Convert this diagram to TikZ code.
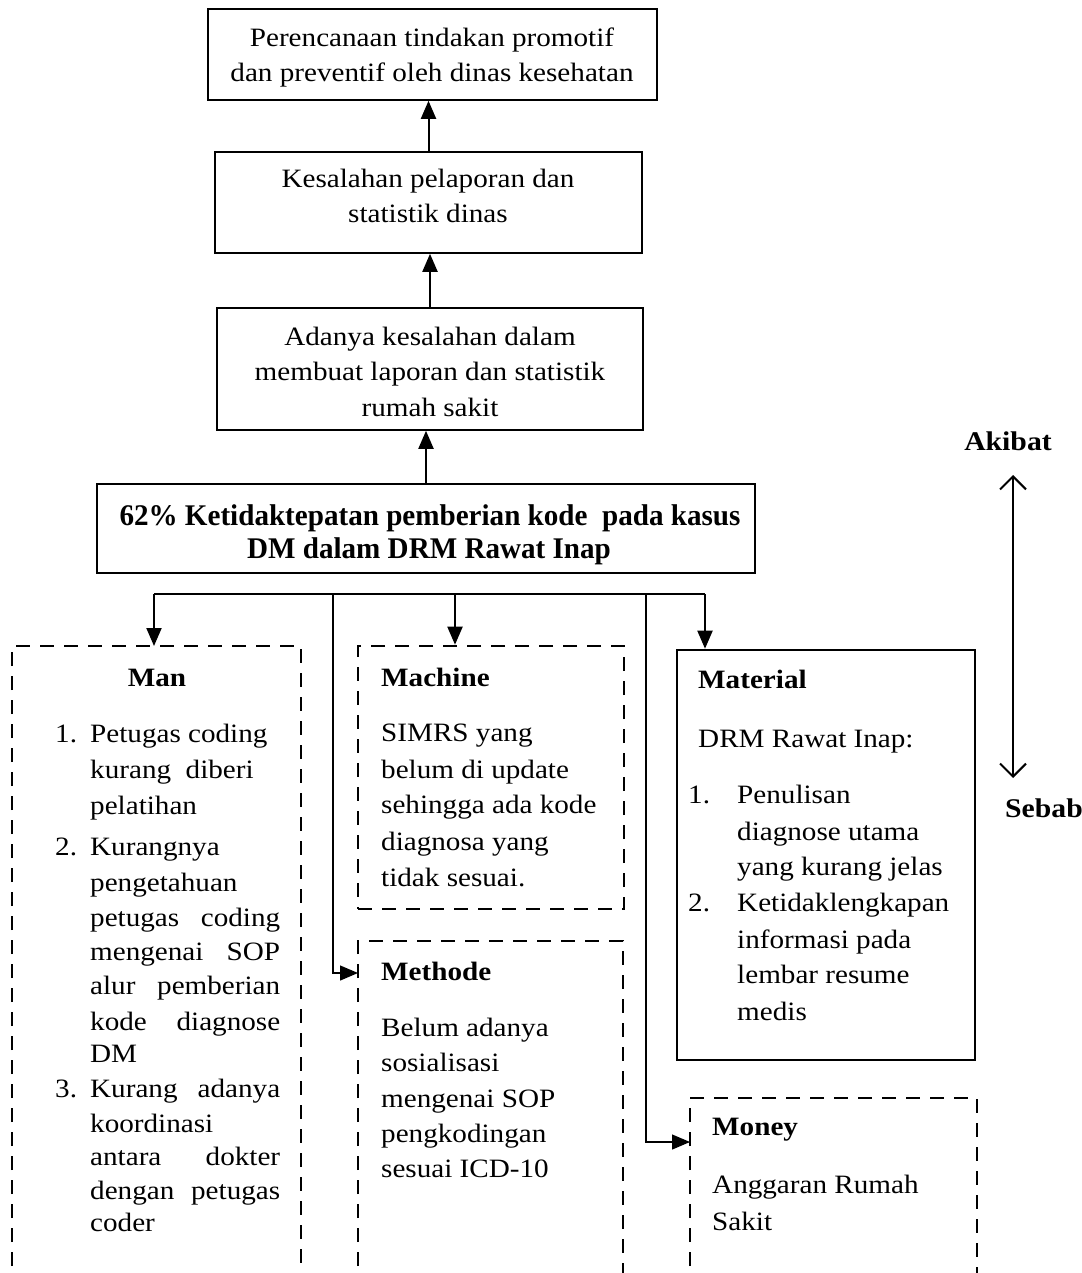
\documentclass[tikz,border=0pt]{standalone}
\usepackage{fontspec}
\setmainfont{Liberation Serif}[FakeStretch=1.1]
\newfontfamily\boxfont{Liberation Serif}[FakeStretch=0.97]
\usetikzlibrary{arrows.meta}
\newcommand\jline[1]{\makebox[190pt][s]{#1}}
\tikzset{
  box/.style={draw, line width=1.6pt, inner sep=0pt},
  thickbox/.style={draw, line width=2.6pt, inner sep=0pt},
  dbox/.style={draw, line width=2.6pt, dash pattern=on 14pt off 10pt},
  arr/.style={line width=2pt, -{Triangle[length=18pt,width=15pt]}},
  thinarr/.style={line width=1.3pt, -{Triangle[length=18pt,width=15pt]}},
  thinline/.style={line width=1.3pt},
  txt/.style={inner sep=0pt, anchor=base},
  txtl/.style={inner sep=0pt, anchor=base west},
  ttl/.style={inner sep=0pt, anchor=base west, font=\fontsize{26.5}{30}\selectfont\bfseries},
}
\begin{document}
\begin{tikzpicture}[x=1pt,y=-1pt,font=\fontsize{26.5}{30}\selectfont]
\useasboundingbox (0,0) rectangle (1081,1273);
\fill[white] (0,0) rectangle (1081,1273);

% upper chain
\node[box, minimum width=449pt, minimum height=91pt] (b1) at (432.5,54.5) {};
\node[txt] (b1a) at (432,47) {Perencanaan tindakan promotif};
\node[txt] (b1b) at (432,82) {dan preventif oleh dinas kesehatan};

\node[box, minimum width=427pt, minimum height=101pt] (b2) at (428.5,202.5) {};
\node[txt] (b2a) at (428,188) {Kesalahan pelaporan dan};
\node[txt] (b2b) at (428,223) {statistik dinas};

\node[box, minimum width=426pt, minimum height=122pt] (b3) at (430,369) {};
\node[txt] (b3a) at (430,345) {Adanya kesalahan dalam};
\node[txt] (b3b) at (430,380) {membuat laporan dan statistik};
\node[txt] (b3c) at (430,416) {rumah sakit};

\node[thickbox, minimum width=658pt, minimum height=89pt] (b4) at (426,528.5) {};
\node[txt, font=\boxfont\fontsize{30}{32}\selectfont\bfseries] (b4a) at (430,525) {62\% Ketidaktepatan pemberian kode\ \ pada kasus};
\node[txt, font=\boxfont\fontsize{30}{32}\selectfont\bfseries] (b4b) at (429,558) {DM dalam DRM Rawat Inap};

\draw[arr] (b2.north) -- (b2.north |- b1.south);
\draw[arr] (b3.north) -- (b3.north |- b2.south);
\draw[arr] (b4.north) -- (b4.north |- b3.south);

% branch coordinates
\coordinate (p1) at (154,594);
\coordinate (p2) at (333,594);
\coordinate (p3) at (455,594);
\coordinate (p4) at (646,594);
\coordinate (p5) at (705,594);
\coordinate (mantop) at (154,646);
\coordinate (methW) at (358,973);
\coordinate (monW) at (690,1142);

% open dashed boxes
\draw[dbox] (12,1290) -- (12,646) -- (301,646) -- (301,1290);
\draw[dbox] (358,1290) -- (358,941) -- (623,941) -- (623,1290);
\draw[dbox] (690,1290) -- (690,1098) -- (977,1098) -- (977,1290);

% closed boxes
\node[dbox, inner sep=0pt, minimum width=266pt, minimum height=263pt] (mach) at (491,777.5) {};
\node[thickbox, minimum width=298pt, minimum height=410pt] (mat) at (826,855) {};

% connectors
\draw[thinline] (p1) -- (p5);
\draw[arr] (p1) -- (mantop);
\draw[arr] (p3) -- (p3 |- mach.north);
\draw[arr] (p5) -- (p5 |- mat.north);
\draw[thinarr] (p2) |- (methW);
\draw[thinarr] (p4) |- (monW);

% Man
\node[txt, font=\fontsize{26.5}{30}\selectfont\bfseries] (manT) at (157,686) {Man};
\node[txtl] (m1n) at (55,742) {1.};
\node[txtl] (m1a) at (90,742) {Petugas coding};
\node[txtl] (m1b) at (90,778) {kurang\ \ diberi};
\node[txtl] (m1c) at (90,814) {pelatihan};
\node[txtl] (m2n) at (55,855) {2.};
\node[txtl] (m2a) at (90,855) {Kurangnya};
\node[txtl] (m2b) at (90,891) {pengetahuan};
\node[txtl] (m2c) at (90,926) {\jline{petugas coding}};
\node[txtl] (m2d) at (90,960) {\jline{mengenai SOP}};
\node[txtl] (m2e) at (90,994) {\jline{alur pemberian}};
\node[txtl] (m2f) at (90,1030) {\jline{kode diagnose}};
\node[txtl] (m2g) at (90,1062) {DM};
\node[txtl] (m3n) at (55,1097) {3.};
\node[txtl] (m3a) at (90,1097) {\jline{Kurang adanya}};
\node[txtl] (m3b) at (90,1132) {koordinasi};
\node[txtl] (m3c) at (90,1165) {\jline{antara dokter}};
\node[txtl] (m3d) at (90,1199) {\jline{dengan petugas}};
\node[txtl] (m3e) at (90,1231) {coder};

% Machine
\node[ttl] (machT) at (381,686) {Machine};
\node[txtl] (ma1) at (381,741) {SIMRS yang};
\node[txtl] (ma2) at (381,778) {belum di update};
\node[txtl] (ma3) at (381,813) {sehingga ada kode};
\node[txtl] (ma4) at (381,850) {diagnosa yang};
\node[txtl] (ma5) at (381,886) {tidak sesuai.};

% Methode
\node[ttl] (metT) at (381,980) {Methode};
\node[txtl] (me1) at (381,1036) {Belum adanya};
\node[txtl] (me2) at (381,1071) {sosialisasi};
\node[txtl] (me3) at (381,1107) {mengenai SOP};
\node[txtl] (me4) at (381,1142) {pengkodingan};
\node[txtl] (me5) at (381,1177) {sesuai ICD-10};

% Material
\node[ttl] (matT) at (698,688) {Material};
\node[txtl] (mt0) at (698,747) {DRM Rawat Inap:};
\node[txtl] (mt1n) at (688,803) {1.};
\node[txtl] (mt1a) at (737,803) {Penulisan};
\node[txtl] (mt1b) at (737,840) {diagnose utama};
\node[txtl] (mt1c) at (737,875) {yang kurang jelas};
\node[txtl] (mt2n) at (688,911) {2.};
\node[txtl] (mt2a) at (737,911) {Ketidaklengkapan};
\node[txtl] (mt2b) at (737,948) {informasi pada};
\node[txtl] (mt2c) at (737,983) {lembar resume};
\node[txtl] (mt2d) at (737,1020) {medis};

% Money
\node[ttl] (monT) at (712,1135) {Money};
\node[txtl] (mo1) at (712,1193) {Anggaran Rumah};
\node[txtl] (mo2) at (712,1230) {Sakit};

% Akibat / Sebab
\node[txt, font=\fontsize{27}{30}\selectfont\bfseries] (akibat) at (1008,450) {Akibat};
\node[txt, font=\fontsize{27}{30}\selectfont\bfseries] (sebab) at (1044,817) {Sebab};
\coordinate (aktop) at (1013,475);
\coordinate (akbot) at (1013,778);
\draw[line width=2pt, {Straight Barb[length=13pt,width=26pt]}-{Straight Barb[length=13pt,width=26pt]}] (aktop) -- (akbot);
\end{tikzpicture}
\end{document}
